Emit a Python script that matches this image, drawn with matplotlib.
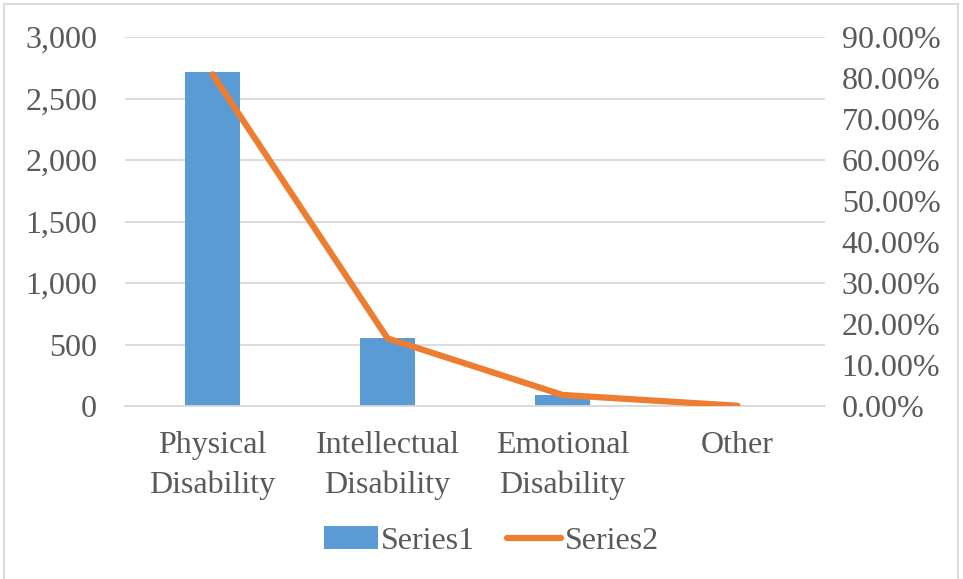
import numpy as np
import matplotlib.pyplot as plt
from matplotlib.patches import Rectangle
from matplotlib.ticker import FuncFormatter, MultipleLocator

categories = ['Physical\nDisability', 'Intellectual\nDisability',
              'Emotional\nDisability', 'Other']
series1 = [2715, 553, 90, 2]
series2 = [0.809, 0.165, 0.027, 0.0006]

plt.rcParams['font.family'] = ['Liberation Serif', 'DejaVu Serif']
text_color = '#595959'
grid_color = '#d9d9d9'

fig = plt.figure(figsize=(9.63, 5.79), dpi=100)
ax = fig.add_axes([125 / 963, 1 - 406 / 579, 700 / 963, 369 / 579])
ax2 = ax.twinx()

x = np.arange(len(categories))
ax.bar(x, series1, width=0.31, color='#5b9bd5', label='Series1', zorder=2)
ax2.plot(x, series2, color='#ed7d31', linewidth=4.5,
         solid_capstyle='round', label='Series2', zorder=3)

ax.set_xlim(-0.5, len(categories) - 0.5)
ax.set_ylim(0, 3000)
ax2.set_ylim(0, 0.9)
ax.yaxis.set_major_locator(MultipleLocator(500))
ax2.yaxis.set_major_locator(MultipleLocator(0.1))
ax.yaxis.set_major_formatter(FuncFormatter(lambda v, p: f'{v:,.0f}'))
ax2.yaxis.set_major_formatter(FuncFormatter(lambda v, p: f'{v * 100:.2f}%'))

ax.set_xticks(x)
ax.set_xticklabels(categories, linespacing=1.45)
ax.grid(axis='y', color=grid_color, linewidth=1.3, zorder=0)
ax.set_axisbelow(True)

for a in (ax, ax2):
    for s in a.spines.values():
        s.set_visible(False)
    a.tick_params(length=0, labelsize=23, colors=text_color)
ax.spines['bottom'].set_visible(True)
ax.spines['bottom'].set_color(grid_color)
ax.spines['bottom'].set_linewidth(1.3)
ax.tick_params(axis='y', pad=20)
ax.tick_params(axis='x', pad=18)
ax2.tick_params(axis='y', pad=12)

ax2.set_zorder(ax.get_zorder() + 1)
ax2.patch.set_visible(False)

h1, l1 = ax.get_legend_handles_labels()
h2, l2 = ax2.get_legend_handles_labels()
fig.legend(h1 + h2, l1 + l2, loc='center', bbox_to_anchor=(0.51, 1 - 541 / 579),
           ncol=2, frameon=False, fontsize=23, labelcolor=text_color,
           handlelength=1.7, handletextpad=0.1, columnspacing=1.0)

fig.patches.append(Rectangle((4 / 963, -0.01), 954 / 963, 1 - 4 / 579 + 0.01,
                             transform=fig.transFigure, fill=False,
                             edgecolor=grid_color, linewidth=1.3))

fig.savefig('out.png', dpi=100)
